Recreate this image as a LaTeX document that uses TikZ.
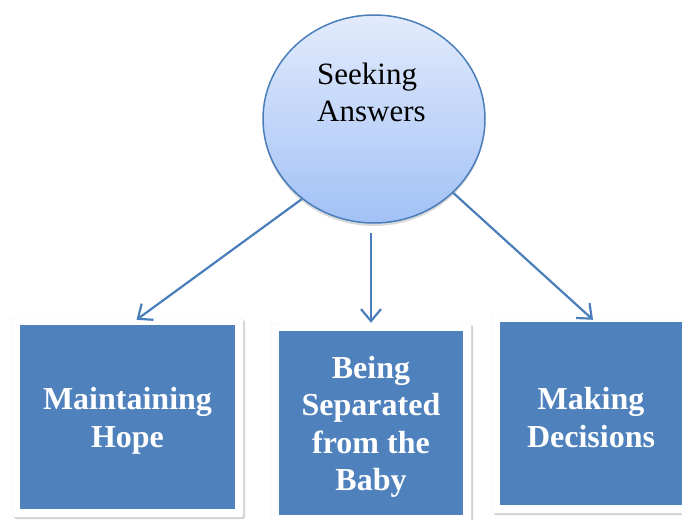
\documentclass[tikz,border=0pt]{standalone}
\usepackage{fontspec}
\setmainfont{Liberation Serif}
\usetikzlibrary{shapes.geometric,shadows,arrows.meta}
\definecolor{boxblue}{HTML}{4F81BD}
\definecolor{linkblue}{HTML}{4A7EBB}
\definecolor{topblue}{HTML}{E2EBFC}
\definecolor{botblue}{HTML}{A2C1F6}
\tikzset{
  frame/.style={draw=gray!15, fill=white, rounded corners=2pt, inner sep=0pt,
    drop shadow={opacity=0.35, shadow xshift=2pt, shadow yshift=-2pt}},
  topic/.style={fill=boxblue, inner sep=0pt},
  topictext/.style={text=white, align=center, inner sep=0pt, yshift=-4pt,
    font=\fontsize{32}{37.5}\selectfont\bfseries},
  link/.style={draw=linkblue, line width=2.2pt, -{Straight Barb[length=12pt,width=20pt]}}
}

\begin{document}
\begin{tikzpicture}[x=1pt, y=-1pt]
\useasboundingbox (0,0) rectangle (682,519);
\clip (0,0) rectangle (682,519);

\node[ellipse, draw=linkblue, line width=1.5pt, minimum width=222pt, minimum height=208pt,
  inner sep=0pt, top color=topblue, bottom color=botblue,
  drop shadow={opacity=0.3, shadow xshift=0pt, shadow yshift=-3pt}] (seek) at (374,119) {};
\node[anchor=base west, inner sep=0pt, align=left, font=\fontsize{31}{36}\selectfont] (seeklbl) at (317,121) {Seeking\\Answers};

\node[frame, minimum width=231pt, minimum height=199pt] (hopeframe) at (127.5,417.5) {};
\node[topic, minimum width=215pt, minimum height=184pt,
  label={[topictext]center:{Maintaining\\Hope}}] (hope) at (127.5,417) {};

\node[frame, minimum width=200pt, minimum height=200pt] (sepframe) at (371,423) {};
\node[topic, minimum width=184pt, minimum height=184pt,
  label={[topictext]center:{Being\\Separated\\from the\\Baby}}] (sep) at (371,423) {};

\node[frame, minimum width=198pt, minimum height=199pt] (decframe) at (591,413.5) {};
\node[topic, minimum width=182pt, minimum height=183pt,
  label={[topictext]center:{Making\\Decisions}}] (dec) at (591,413.5) {};

\draw[link] (seek.228) -- ([xshift=9pt,yshift=-2pt]hopeframe.north);
\draw[link, shorten <=9pt] ([xshift=-3pt]seek.south) -- (sepframe.north);
\draw[link] (seek.317) -- ([xshift=2pt,yshift=-6pt]decframe.north);
\end{tikzpicture}
\end{document}
